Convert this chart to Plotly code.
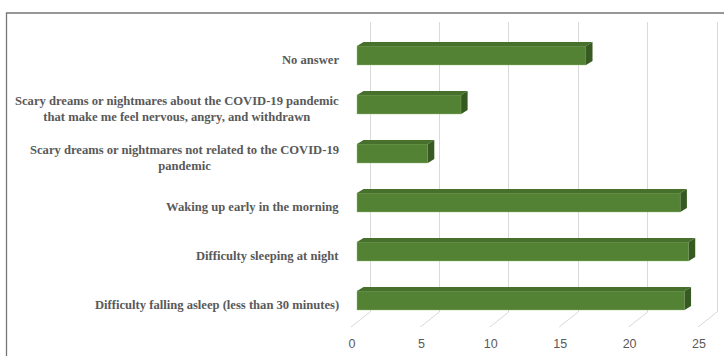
import plotly.graph_objects as go

# ---- data (top to bottom as in the chart) ----
categories = [
    "No answer",
    "Scary dreams or nightmares about the COVID-19 pandemic<br>that make me feel nervous, angry, and withdrawn",
    "Scary dreams or nightmares not related to the COVID-19<br>pandemic",
    "Waking up early in the morning",
    "Difficulty sleeping at night",
    "Difficulty falling asleep (less than 30 minutes)",
]
values = [16.5, 7.5, 5.1, 23.3, 23.9, 23.6]
tick_values = [0, 5, 10, 15, 20, 25]

# ---- layout geometry (pixels) ----
W, H = 724, 356
S = 13.88            # px per unit
PX_L, PX_R = 340, 724
BACK0 = 370          # back-wall zero
BAR0 = 357           # bar front-face zero
FRONT0 = 351         # floor front-edge zero
GRID_TOP, GRID_BOT = 22, 312
FLOOR_FRONT = 327
BAR_TOP, BAR_BOT = 31, 325
DX_PX, DY_PX = 6.5, 4.0
BAR_W = 0.388

def py(p):
    return (H - p) / H

n = len(categories)
idx = [n - 1 - k for k in range(n)]
dx = DX_PX / S
dy = DY_PX / ((BAR_BOT - BAR_TOP) / n)

FRONT = "#548235"
TOP = "#46702c"
SIDE = "#375a22"

fig = go.Figure()

# dummy trace for grid (back wall) subplot
fig.add_trace(go.Scatter(x=[None], y=[None], xaxis="x", yaxis="y",
                         showlegend=False, hoverinfo="skip"))

# front faces
fig.add_trace(go.Bar(
    x=values, y=idx, orientation="h", width=BAR_W, base=0,
    marker=dict(color=FRONT, line=dict(color="rgba(150,190,120,0.7)", width=0.6)),
    xaxis="x2", yaxis="y2", showlegend=False,
))

# top and side faces
for v, i in zip(values, idx):
    t = i + BAR_W / 2
    b = i - BAR_W / 2
    fig.add_trace(go.Scatter(
        x=[0, dx, v + dx, v, 0], y=[t, t + dy, t + dy, t, t],
        fill="toself", fillcolor=TOP, mode="lines", line=dict(width=0, color=TOP),
        xaxis="x2", yaxis="y2", showlegend=False, hoverinfo="skip"))
    fig.add_trace(go.Scatter(
        x=[v, v + dx, v + dx, v, v], y=[t, t + dy, b + dy, b, t],
        fill="toself", fillcolor=SIDE, mode="lines", line=dict(width=0, color=SIDE),
        xaxis="x2", yaxis="y2", showlegend=False, hoverinfo="skip"))

xdom = [PX_L / W, PX_R / W]

shapes = []
# floor diagonal lines
for t in tick_values:
    shapes.append(dict(type="line", xref="x", yref="paper",
                       x0=t, y0=py(GRID_BOT), x1=t - (BACK0 - FRONT0) / S, y1=py(FLOOR_FRONT),
                       line=dict(color="#d9d9d9", width=1)))
# outer chart border
shapes.append(dict(type="rect", xref="paper", yref="paper",
                   x0=6.5 / W, y0=-0.05, x1=1.05, y1=py(13),
                   line=dict(color="#767676", width=1.3), fillcolor="rgba(0,0,0,0)"))

annotations = []
for c, i in zip(categories, idx):
    annotations.append(dict(
        text=c, xref="paper", yref="y2", x=341 / W, y=i, xanchor="right", yanchor="middle",
        align="center", showarrow=False, yshift=-4,
        font=dict(family="Liberation Serif", size=12.6, color="#595959", weight="bold")))

fig.update_layout(
    width=W, height=H,
    margin=dict(l=0, r=0, t=0, b=0),
    paper_bgcolor="white", plot_bgcolor="rgba(0,0,0,0)",
    xaxis=dict(domain=xdom, anchor="y",
               range=[(PX_L - BACK0) / S, (PX_R - BACK0) / S],
               tickvals=tick_values, showgrid=True, gridcolor="#d9d9d9", gridwidth=1,
               zeroline=False, showline=False, ticks="",
               ticklabelshift=-(BACK0 - FRONT0) + 1, ticklabelstandoff=22,
               tickfont=dict(family="Liberation Sans", size=12.5, color="#595959")),
    yaxis=dict(domain=[py(GRID_BOT), py(GRID_TOP)], anchor="x", range=[0, 1],
               showgrid=False, zeroline=False, showticklabels=False, showline=False),
    xaxis2=dict(domain=xdom, anchor="y2",
                range=[(PX_L - BAR0) / S, (PX_R - BAR0) / S],
                showgrid=False, zeroline=False, showticklabels=False, showline=False, ticks=""),
    yaxis2=dict(domain=[py(BAR_BOT), py(BAR_TOP)], anchor="x2", range=[-0.5, n - 0.5],
                showgrid=False, zeroline=False, showticklabels=False, showline=False),
    shapes=shapes,
    annotations=annotations,
    showlegend=False,
)

fig.write_html("out.html")
